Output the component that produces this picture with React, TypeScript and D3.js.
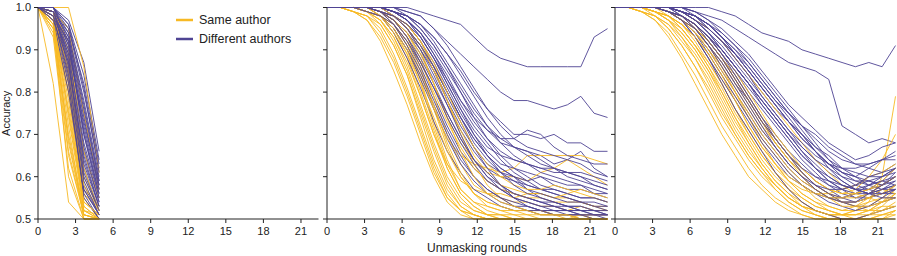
import React from "react";
import * as d3 from "d3";

// x positions (unmasking rounds) of the samples
const shortRounds = [0, 1.22, 2.44, 3.66, 4.88];
const longRounds = [0, 1.07, 2.13, 3.2, 4.27, 5.33, 6.4, 7.47, 8.53, 9.6, 10.67, 11.73, 12.8, 13.87, 14.93, 16, 17.07, 18.13, 19.2, 20.27, 21.33, 22.4];

const roundTicks = [0, 3, 6, 9, 12, 15, 18, 21];
const accTicks = [0.5, 0.6, 0.7, 0.8, 0.9, 1.0];

// accuracy in percent, panel 1
const sameA = [
  [100, 82, 54, 50, 50], [100, 93, 62, 50, 50], [100, 94, 65, 51, 50], [100, 95, 70, 52, 50],
  [100, 96, 72, 50, 50], [100, 96, 75, 53, 50], [100, 97, 78, 52, 51], [100, 95, 80, 55, 50],
  [100, 97, 82, 54, 51], [100, 98, 85, 56, 52], [100, 98, 88, 57, 53], [100, 99, 90, 60, 52],
  [100, 97, 68, 51, 50], [100, 96, 60, 50, 50], [100, 99, 92, 66, 55], [100, 100, 100, 86, 61],
  [100, 99, 95, 75, 57], [100, 98, 86, 62, 52], [100, 96, 66, 51, 50], [100, 97, 74, 52, 50],
  [100, 98, 80, 53, 50], [100, 95, 69, 51, 50], [100, 97, 76, 54, 51], [100, 99, 84, 58, 52],
];
const diffA = [
  [100, 100, 97, 87, 66], [100, 100, 96, 84, 64], [100, 99, 95, 80, 62], [100, 100, 94, 78, 60],
  [100, 99, 93, 75, 58], [100, 99, 92, 72, 57], [100, 100, 91, 70, 56], [100, 98, 90, 68, 55],
  [100, 99, 89, 66, 54], [100, 98, 88, 64, 53], [100, 99, 87, 62, 52], [100, 98, 86, 60, 52],
  [100, 97, 85, 58, 51], [100, 99, 84, 57, 51], [100, 98, 83, 56, 50], [100, 97, 82, 55, 50],
  [100, 99, 90, 73, 58], [100, 100, 95, 82, 63], [100, 98, 92, 70, 55], [100, 99, 86, 65, 53],
  [100, 97, 80, 57, 51], [100, 100, 93, 76, 59], [100, 99, 91, 71, 56], [100, 98, 89, 67, 54],
  [100, 100, 96, 81, 61], [100, 99, 88, 63, 53], [100, 98, 84, 59, 51], [100, 99, 94, 77, 59],
  [100, 97, 87, 61, 52], [100, 100, 92, 74, 57],
];

// panel 2
const sameB = [
  [100, 100, 99, 97, 92, 85, 77, 68, 60, 54, 51, 50, 50, 50, 50, 50, 50, 50, 50, 50, 50, 50],
  [100, 100, 99, 98, 95, 89, 81, 72, 63, 56, 52, 51, 50, 50, 50, 50, 50, 50, 50, 50, 50, 50],
  [100, 100, 100, 99, 96, 91, 84, 75, 66, 58, 53, 51, 50, 50, 50, 50, 50, 50, 50, 50, 50, 50],
  [100, 100, 100, 99, 97, 93, 86, 77, 68, 60, 55, 52, 51, 50, 50, 50, 50, 50, 50, 50, 50, 50],
  [100, 100, 100, 99, 98, 95, 89, 80, 71, 62, 56, 53, 51, 51, 50, 50, 50, 50, 50, 50, 50, 50],
  [100, 100, 100, 100, 98, 96, 91, 83, 73, 64, 57, 54, 52, 51, 51, 50, 50, 50, 50, 50, 50, 50],
  [100, 100, 100, 100, 99, 97, 93, 86, 76, 67, 60, 56, 54, 53, 52, 52, 51, 51, 51, 51, 50, 50],
  [100, 100, 100, 100, 99, 97, 94, 88, 79, 70, 63, 58, 56, 55, 54, 54, 53, 53, 52, 53, 52, 52],
  [100, 100, 100, 99, 98, 94, 88, 79, 70, 63, 59, 57, 56, 56, 55, 56, 56, 55, 55, 54, 53, 52],
  [100, 100, 100, 100, 99, 96, 91, 84, 76, 69, 65, 63, 62, 61, 62, 65, 65, 65, 65, 65, 64, 63],
  [100, 100, 100, 100, 99, 98, 95, 90, 82, 74, 68, 64, 61, 60, 60, 59, 61, 62, 64, 62, 60, 58],
  [100, 100, 100, 100, 99, 97, 93, 87, 80, 73, 67, 62, 59, 57, 56, 55, 55, 54, 54, 54, 53, 53],
  [100, 100, 100, 99, 97, 92, 85, 76, 67, 59, 54, 52, 51, 51, 50, 50, 50, 50, 50, 50, 50, 50],
  [100, 100, 100, 100, 99, 98, 96, 92, 86, 78, 70, 63, 58, 55, 53, 52, 52, 51, 51, 51, 50, 50],
  [100, 100, 99, 98, 94, 88, 80, 71, 62, 55, 52, 50, 50, 50, 50, 50, 50, 50, 50, 50, 50, 50],
  [100, 100, 100, 100, 98, 95, 90, 82, 72, 63, 57, 54, 53, 52, 52, 51, 51, 51, 50, 51, 51, 51],
  [100, 100, 100, 99, 97, 93, 87, 79, 70, 62, 56, 53, 51, 50, 50, 50, 50, 50, 50, 50, 50, 50],
  [100, 100, 99, 98, 96, 91, 84, 74, 64, 57, 53, 51, 50, 50, 50, 50, 50, 50, 50, 50, 50, 50],
  [100, 100, 100, 100, 98, 96, 92, 85, 77, 68, 61, 56, 53, 52, 51, 51, 50, 50, 50, 50, 50, 50],
  [100, 100, 100, 99, 98, 94, 89, 82, 74, 66, 60, 56, 54, 53, 52, 52, 52, 51, 51, 50, 50, 50],
  [100, 100, 100, 100, 99, 97, 94, 89, 82, 74, 66, 60, 56, 54, 53, 52, 51, 51, 51, 50, 50, 50],
  [100, 100, 100, 100, 99, 98, 95, 91, 85, 78, 71, 65, 61, 58, 57, 56, 56, 55, 56, 57, 56, 55],
  [100, 100, 99, 97, 93, 87, 79, 70, 61, 55, 52, 51, 50, 50, 50, 50, 50, 50, 50, 50, 50, 50],
  [100, 100, 100, 100, 100, 98, 96, 92, 87, 80, 73, 67, 63, 60, 58, 57, 57, 58, 57, 56, 55, 54],
];
const diffB = [
  [100, 100, 100, 100, 100, 100, 100, 99, 98, 97, 96, 93, 90, 88, 87, 86, 86, 86, 86, 86, 93, 95],
  [100, 100, 100, 100, 100, 100, 99, 98, 95, 92, 89, 86, 83, 80, 78, 78, 77, 76, 77, 79, 75, 74],
  [100, 100, 100, 100, 100, 99, 98, 96, 93, 89, 85, 80, 76, 73, 70, 70, 69, 70, 68, 68, 66, 66],
  [100, 100, 100, 100, 100, 99, 97, 94, 90, 85, 80, 75, 71, 68, 67, 66, 65, 63, 64, 66, 62, 60],
  [100, 100, 100, 100, 99, 98, 96, 92, 87, 81, 75, 70, 66, 63, 62, 61, 60, 59, 58, 58, 56, 55],
  [100, 100, 100, 100, 99, 97, 94, 89, 83, 77, 71, 66, 62, 60, 59, 58, 57, 57, 56, 55, 55, 54],
  [100, 100, 100, 100, 99, 96, 92, 86, 79, 72, 66, 62, 59, 57, 56, 55, 54, 54, 53, 53, 52, 52],
  [100, 100, 100, 100, 98, 95, 90, 83, 76, 69, 63, 59, 56, 54, 53, 53, 52, 52, 52, 51, 51, 51],
  [100, 100, 100, 99, 98, 94, 88, 81, 73, 66, 61, 57, 55, 53, 52, 52, 51, 51, 51, 51, 51, 50],
  [100, 100, 100, 100, 99, 97, 93, 88, 82, 75, 69, 64, 60, 58, 56, 55, 54, 53, 53, 52, 52, 51],
  [100, 100, 100, 100, 100, 98, 96, 92, 86, 80, 74, 69, 65, 62, 60, 58, 57, 56, 55, 54, 53, 52],
  [100, 100, 100, 100, 100, 99, 97, 94, 89, 83, 77, 72, 68, 64, 61, 59, 57, 56, 55, 54, 54, 53],
  [100, 100, 100, 100, 99, 97, 94, 90, 85, 79, 73, 67, 62, 58, 55, 53, 52, 51, 51, 50, 50, 50],
  [100, 100, 100, 100, 99, 98, 95, 91, 86, 80, 74, 69, 65, 62, 60, 57, 55, 54, 53, 52, 51, 51],
  [100, 100, 100, 99, 98, 95, 90, 84, 77, 70, 64, 60, 57, 55, 54, 53, 52, 52, 51, 51, 51, 51],
  [100, 100, 100, 100, 100, 99, 98, 95, 91, 86, 81, 76, 72, 69, 67, 66, 64, 62, 61, 60, 58, 57],
  [100, 100, 100, 100, 100, 99, 97, 93, 88, 82, 76, 71, 67, 65, 64, 63, 62, 61, 61, 60, 59, 58],
  [100, 100, 100, 100, 99, 98, 95, 90, 84, 77, 70, 64, 60, 57, 55, 54, 53, 53, 52, 52, 52, 51],
  [100, 100, 100, 100, 100, 98, 95, 91, 85, 78, 72, 67, 63, 61, 60, 59, 60, 58, 57, 57, 56, 56],
  [100, 100, 100, 100, 99, 96, 91, 85, 78, 71, 65, 60, 57, 55, 53, 52, 52, 51, 51, 51, 50, 50],
  [100, 100, 100, 100, 100, 99, 97, 94, 89, 84, 78, 73, 69, 66, 64, 63, 62, 62, 61, 61, 60, 59],
  [100, 100, 100, 100, 99, 98, 95, 91, 86, 80, 74, 68, 64, 61, 59, 57, 56, 55, 54, 54, 53, 53],
  [100, 100, 100, 100, 100, 100, 98, 96, 92, 87, 82, 77, 72, 68, 65, 63, 61, 60, 59, 58, 57, 56],
  [100, 100, 100, 100, 99, 97, 93, 87, 81, 74, 68, 63, 59, 57, 55, 54, 53, 52, 52, 52, 51, 51],
  [100, 100, 100, 100, 100, 99, 98, 95, 91, 86, 80, 74, 69, 65, 62, 60, 58, 57, 56, 55, 55, 54],
  [100, 100, 100, 100, 100, 99, 97, 93, 88, 83, 78, 74, 71, 69, 69, 71, 70, 67, 65, 64, 63, 63],
  [100, 100, 100, 99, 98, 96, 92, 87, 81, 75, 69, 64, 61, 58, 56, 55, 54, 53, 52, 51, 51, 51],
  [100, 100, 100, 100, 100, 99, 98, 96, 93, 89, 84, 79, 74, 70, 67, 65, 63, 62, 60, 59, 58, 57],
  [100, 100, 100, 100, 99, 98, 96, 93, 88, 82, 76, 70, 65, 61, 58, 56, 55, 54, 53, 53, 52, 52],
  [100, 100, 100, 100, 100, 100, 99, 98, 95, 91, 86, 81, 76, 72, 69, 67, 66, 65, 64, 63, 61, 60],
];

// panel 3
const sameC = [
  [100, 100, 99, 97, 94, 89, 84, 78, 72, 67, 62, 58, 55, 53, 51, 50, 50, 50, 50, 50, 51, 51],
  [100, 100, 99, 98, 95, 91, 86, 80, 74, 69, 64, 60, 57, 54, 52, 51, 50, 50, 50, 50, 50, 52],
  [100, 100, 100, 98, 96, 92, 88, 83, 77, 71, 66, 62, 58, 55, 53, 52, 51, 50, 50, 51, 52, 54],
  [100, 100, 100, 99, 97, 94, 90, 85, 79, 73, 68, 63, 59, 56, 54, 52, 51, 51, 50, 51, 53, 56],
  [100, 100, 100, 99, 98, 95, 91, 86, 81, 75, 70, 65, 61, 58, 55, 53, 52, 51, 52, 53, 55, 58],
  [100, 100, 100, 99, 98, 96, 93, 88, 83, 78, 72, 67, 63, 59, 56, 54, 52, 51, 51, 52, 54, 57],
  [100, 100, 100, 100, 98, 96, 93, 89, 84, 79, 74, 69, 65, 61, 58, 55, 53, 52, 52, 54, 60, 79],
  [100, 100, 100, 100, 99, 97, 94, 90, 86, 81, 76, 71, 67, 63, 60, 57, 55, 54, 53, 52, 52, 53],
  [100, 100, 100, 99, 97, 93, 89, 84, 78, 72, 67, 62, 58, 55, 53, 51, 50, 50, 50, 50, 50, 50],
  [100, 100, 99, 97, 93, 88, 82, 76, 70, 65, 60, 57, 54, 52, 51, 50, 50, 50, 50, 50, 50, 51],
  [100, 100, 100, 100, 99, 98, 96, 93, 89, 85, 80, 75, 70, 66, 62, 59, 57, 56, 57, 60, 64, 70],
  [100, 100, 100, 100, 99, 97, 95, 92, 88, 84, 79, 74, 69, 65, 61, 58, 56, 55, 55, 56, 58, 60],
  [100, 100, 100, 99, 98, 96, 92, 87, 82, 76, 71, 66, 62, 59, 57, 56, 56, 57, 58, 60, 61, 63],
  [100, 100, 100, 100, 99, 98, 95, 91, 86, 80, 74, 68, 63, 59, 56, 54, 53, 52, 53, 55, 57, 56],
  [100, 100, 100, 99, 97, 94, 90, 85, 80, 74, 69, 64, 60, 57, 54, 52, 51, 51, 52, 52, 53, 53],
  [100, 100, 100, 100, 99, 97, 94, 91, 87, 82, 77, 72, 68, 64, 61, 58, 56, 54, 53, 54, 55, 55],
  [100, 100, 100, 100, 100, 99, 97, 95, 92, 88, 84, 80, 76, 72, 68, 64, 61, 58, 56, 55, 54, 55],
  [100, 100, 99, 98, 96, 93, 88, 82, 76, 70, 65, 61, 57, 54, 52, 51, 50, 50, 50, 51, 51, 52],
  [100, 100, 100, 99, 97, 95, 91, 87, 82, 76, 70, 65, 61, 57, 55, 53, 52, 51, 51, 52, 54, 55],
  [100, 100, 100, 100, 99, 97, 94, 90, 85, 80, 75, 70, 66, 62, 59, 57, 55, 54, 54, 55, 56, 58],
  [100, 100, 100, 99, 98, 95, 91, 86, 80, 74, 68, 63, 59, 56, 53, 52, 51, 50, 50, 50, 51, 52],
  [100, 100, 100, 100, 99, 98, 96, 92, 88, 83, 78, 73, 69, 65, 62, 59, 57, 56, 56, 57, 59, 62],
  [100, 100, 99, 98, 95, 91, 86, 81, 75, 70, 65, 61, 58, 55, 53, 52, 51, 51, 51, 51, 52, 53],
  [100, 100, 100, 100, 99, 97, 95, 92, 88, 83, 78, 73, 68, 64, 60, 57, 55, 53, 53, 53, 54, 56],
  [100, 100, 100, 99, 98, 96, 93, 89, 84, 78, 72, 67, 63, 60, 58, 56, 55, 55, 56, 57, 58, 60],
];
const diffC = [
  [100, 100, 100, 100, 100, 100, 100, 100, 99, 98, 96, 94, 93, 92, 90, 89, 88, 87, 86, 87, 86, 91],
  [100, 100, 100, 100, 100, 100, 99, 98, 97, 95, 93, 91, 89, 87, 86, 85, 83, 72, 70, 68, 69, 68],
  [100, 100, 100, 100, 100, 99, 98, 96, 93, 89, 85, 81, 77, 73, 69, 66, 63, 61, 60, 59, 60, 62],
  [100, 100, 100, 100, 99, 98, 96, 93, 89, 85, 80, 76, 72, 68, 64, 61, 58, 56, 55, 56, 57, 58],
  [100, 100, 100, 100, 99, 97, 95, 91, 87, 82, 78, 73, 69, 65, 62, 59, 57, 55, 54, 55, 56, 57],
  [100, 100, 100, 100, 99, 98, 95, 92, 88, 84, 79, 74, 70, 66, 63, 60, 58, 57, 58, 59, 58, 60],
  [100, 100, 100, 100, 100, 99, 97, 94, 91, 87, 83, 79, 75, 71, 67, 64, 61, 59, 57, 56, 58, 61],
  [100, 100, 100, 100, 100, 99, 98, 95, 92, 89, 85, 81, 77, 73, 70, 66, 63, 60, 58, 57, 56, 58],
  [100, 100, 100, 100, 99, 97, 94, 90, 85, 80, 75, 70, 66, 62, 59, 57, 55, 54, 54, 55, 57, 59],
  [100, 100, 100, 100, 100, 98, 96, 93, 90, 86, 82, 78, 74, 70, 66, 62, 59, 57, 55, 55, 56, 56],
  [100, 100, 100, 100, 100, 99, 98, 96, 94, 91, 88, 84, 80, 76, 72, 68, 64, 61, 60, 62, 61, 63],
  [100, 100, 100, 100, 99, 98, 96, 92, 88, 83, 78, 73, 68, 64, 61, 58, 56, 55, 56, 58, 57, 58],
  [100, 100, 100, 100, 100, 99, 97, 95, 92, 88, 84, 80, 76, 73, 70, 67, 65, 62, 60, 58, 59, 58],
  [100, 100, 100, 100, 99, 97, 93, 88, 83, 78, 73, 68, 64, 60, 58, 56, 55, 55, 56, 57, 59, 62],
  [100, 100, 100, 100, 100, 99, 98, 96, 93, 90, 87, 83, 79, 75, 72, 69, 66, 64, 63, 62, 64, 66],
  [100, 100, 100, 100, 100, 100, 99, 97, 95, 92, 89, 85, 81, 77, 74, 71, 68, 66, 64, 65, 67, 68],
  [100, 100, 100, 100, 99, 98, 96, 93, 89, 84, 79, 74, 69, 65, 61, 58, 56, 54, 53, 53, 54, 55],
  [100, 100, 100, 100, 100, 98, 96, 93, 89, 85, 81, 77, 73, 69, 65, 62, 59, 57, 56, 56, 57, 57],
  [100, 100, 100, 100, 99, 97, 94, 89, 84, 79, 74, 69, 65, 61, 58, 56, 54, 53, 52, 53, 55, 57],
  [100, 100, 100, 100, 100, 99, 97, 94, 90, 86, 82, 78, 74, 70, 67, 64, 62, 60, 59, 59, 58, 59],
  [100, 100, 100, 100, 99, 97, 93, 88, 82, 76, 71, 66, 61, 57, 54, 52, 51, 50, 50, 51, 52, 53],
  [100, 100, 100, 100, 100, 99, 97, 94, 90, 86, 82, 77, 73, 69, 65, 62, 60, 58, 57, 57, 58, 60],
  [100, 100, 100, 100, 99, 98, 96, 93, 90, 86, 82, 78, 74, 70, 66, 63, 60, 58, 57, 58, 60, 62],
  [100, 100, 100, 100, 100, 100, 98, 96, 93, 90, 86, 82, 78, 74, 70, 66, 63, 61, 59, 58, 59, 60],
  [100, 100, 100, 100, 99, 98, 95, 91, 86, 81, 76, 71, 67, 63, 60, 58, 57, 57, 58, 60, 61, 62],
  [100, 100, 100, 100, 100, 99, 98, 95, 92, 88, 84, 79, 75, 71, 68, 65, 63, 62, 62, 63, 64, 65],
  [100, 100, 100, 100, 99, 97, 95, 91, 87, 82, 77, 72, 67, 63, 60, 57, 55, 54, 54, 56, 58, 60],
  [100, 100, 100, 100, 100, 99, 97, 95, 92, 89, 86, 82, 78, 75, 72, 70, 67, 65, 63, 63, 64, 64],
  [100, 100, 100, 100, 100, 100, 99, 97, 94, 91, 87, 83, 79, 75, 71, 67, 64, 62, 61, 60, 60, 61],
  [100, 100, 100, 100, 99, 98, 96, 92, 88, 83, 78, 73, 69, 65, 62, 60, 59, 58, 57, 56, 56, 57],
  [100, 100, 100, 100, 100, 99, 98, 96, 93, 89, 85, 81, 77, 73, 69, 66, 62, 59, 57, 56, 55, 55],
];

const panels = [
  { left: 38, rounds: shortRounds, same: sameA, diff: diffA, labels: true },
  { left: 327, rounds: longRounds, same: sameB, diff: diffB, labels: false },
  { left: 615, rounds: longRounds, same: sameC, diff: diffC, labels: false },
];

const SAME = "#F7B924";
const DIFF = "#4F4493";
const FONT = "'Liberation Sans', Arial, sans-serif";

const top = 7.5, bottom = 219, plotW = 280.5;

const y = d3.scaleLinear().domain([0.5, 1]).range([bottom, top]);

const Panel = ({ p }: { p: typeof panels[0] }) => {
  const x = d3.scaleLinear().domain([0, 22.4]).range([p.left, p.left + plotW]);
  const line = d3.line<number>()
    .x((_, i) => x(p.rounds[i]))
    .y((v) => y(v / 100));
  // interleave the two groups so neither sits fully on top
  const n = Math.max(p.same.length, p.diff.length);
  const order: { v: number[]; c: string }[] = [];
  for (let i = 0; i < n; i++) {
    if (p.same[i]) order.push({ v: p.same[i], c: SAME });
    if (p.diff[i]) order.push({ v: p.diff[i], c: DIFF });
  }
  return (
    <g>
      <g>
        {order.map((d, i) => (
          <path key={i} d={line(d.v) || ""} fill="none" stroke={d.c} strokeWidth={1} strokeOpacity={0.9} />
        ))}
      </g>
      {/* y axis */}
      <line x1={p.left} x2={p.left} y1={top} y2={bottom} stroke="#222" strokeWidth={1} />
      {accTicks.map((t) => (
        <g key={t}>
          <line x1={p.left - 4} x2={p.left} y1={y(t)} y2={y(t)} stroke="#222" />
          {p.labels && (
            <text x={p.left - 7} y={y(t)} dy="0.35em" textAnchor="end" fontSize={11} fontFamily={FONT} fill="#222">
              {t.toFixed(1)}
            </text>
          )}
        </g>
      ))}
      {/* x axis */}
      <line x1={p.left} x2={p.left + plotW} y1={bottom} y2={bottom} stroke="#222" strokeWidth={1} />
      {roundTicks.map((t) => (
        <g key={t}>
          <line x1={x(t)} x2={x(t)} y1={bottom} y2={bottom + 4} stroke="#222" />
          <text x={x(t)} y={bottom + 16} textAnchor="middle" fontSize={11} fontFamily={FONT} fill="#222">
            {t}
          </text>
        </g>
      ))}
    </g>
  );
};

export default function App() {
  return (
    <svg width={897} height={256} style={{ position: "absolute", left: 0, top: 0, background: "#fff" }}>
      {panels.map((p, i) => (
        <Panel key={i} p={p} />
      ))}
      <text transform={`translate(10,${(top + bottom) / 2}) rotate(-90)`} textAnchor="middle" fontSize={11} fontFamily={FONT} fill="#222">
        Accuracy
      </text>
      <text x={477} y={252} textAnchor="middle" fontSize={12} fontFamily={FONT} fill="#222">
        Unmasking rounds
      </text>
      {/* legend */}
      <line x1={176} x2={193} y1={20} y2={20} stroke={SAME} strokeWidth={2.5} />
      <text x={199} y={20} dy="0.35em" fontSize={12.5} fontFamily={FONT} fill="#222">Same author</text>
      <line x1={176} x2={193} y1={39} y2={39} stroke={DIFF} strokeWidth={2.5} />
      <text x={199} y={39} dy="0.35em" fontSize={12.5} fontFamily={FONT} fill="#222">Different authors</text>
    </svg>
  );
}
